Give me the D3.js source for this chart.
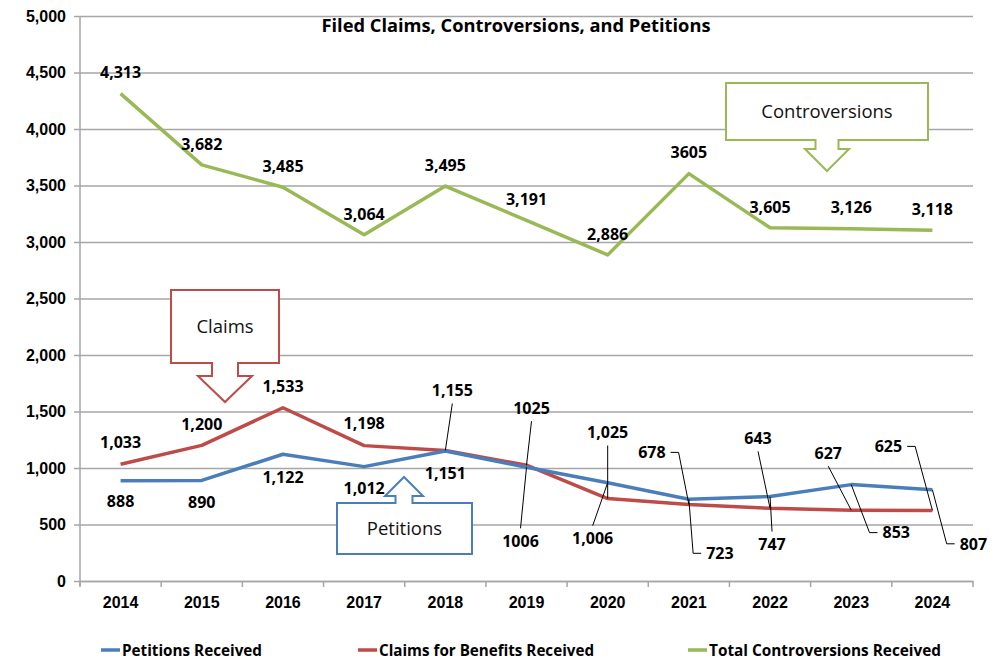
<!DOCTYPE html>
<html>
<head>
<meta charset="utf-8">
<script src="https://cdn.jsdelivr.net/npm/d3@7"></script>
<style>
  body { margin: 0; background: #fff; }
  svg { display: block; font-family: "Open Sans", sans-serif; }
</style>
</head>
<body>
<svg width="1000" height="662"></svg>
<script>
// chart data
var years = ["2014","2015","2016","2017","2018","2019","2020","2021","2022","2023","2024"];
var petitions = [888, 890, 1122, 1012, 1151, 1006, 870, 723, 747, 853, 807];
var claims = [1033, 1200, 1533, 1198, 1155, 1025, 730, 678, 643, 627, 625];
var controversions = [4313, 3682, 3485, 3064, 3495, 3191, 2886, 3605, 3126, 3118, 3105];

// data labels as printed on the chart
var petitionLabels = ["888","890","1,122","1,012","1,151","1006","1,006","723","747","853","807"];
var claimLabels = ["1,033","1,200","1,533","1,198","1,155","1025","1,025","678","643","627","625"];
var controvLabels = ["4,313","3,682","3,485","3,064","3,495","3,191","2,886","3605","3,605","3,126","3,118"];

var yTicks = [0, 500, 1000, 1500, 2000, 2500, 3000, 3500, 4000, 4500, 5000];
var seriesNames = ["Petitions Received", "Claims for Benefits Received", "Total Controversions Received"];

// label placement (offset from point, leader type)
var petDx = [0,0,0,0,0,-6,-15,31,2,45,41];
var petDy = [21,22,23,22,22,74,56,54,48,48,54];
var petLead = ["","","","","","v","v","h","v","h","h"];
var claimDx = [0,0,0,0,7,5,0,-37,-12,-23,-44];
var claimDy = [-22,-21,-22,-22,-60,-57,-66,-52,-70,-57,-64];
var claimLead = ["","","","","v","v","v","h","v","v","h"];

var blue = "#4a7ebb", red = "#be4b48", green = "#98b954";

var svg = d3.select("svg");
var plotL = 80, plotR = 973, plotT = 16, plotB = 581;

var x = d3.scaleBand().domain(years).range([plotL, plotR]).padding(0);
var y = d3.scaleLinear().domain([0, 5000]).range([plotB, plotT]);
var cx = function(i){ return x(years[i]) + x.bandwidth() / 2; };

// gridlines + y axis
var yAxis = d3.axisLeft(y).tickValues(yTicks).tickSize(-(plotR - plotL)).tickPadding(14)
  .tickFormat(d3.format(","));
var gy = svg.append("g").attr("transform", "translate(" + plotL + ",0)").call(yAxis);
gy.select(".domain").remove();
gy.selectAll(".tick line").attr("stroke", "#a6a6a6").attr("stroke-width", 1.5).attr("x1", -6);
gy.selectAll(".tick text").attr("font-size", 16).attr("font-weight", "bold").attr("fill", "#000");

svg.append("line").attr("x1", plotL).attr("x2", plotL).attr("y1", plotT).attr("y2", plotB + 5)
  .attr("stroke", "#a6a6a6").attr("stroke-width", 1.5);

// x axis
var xAxis = d3.axisBottom(x).tickSize(0).tickPadding(16);
var gx = svg.append("g").attr("transform", "translate(0," + plotB + ")").call(xAxis);
gx.select(".domain").attr("stroke", "#a6a6a6").attr("stroke-width", 1.5);
gx.selectAll(".tick text").attr("font-size", 16).attr("font-weight", "bold").attr("fill", "#000");
var bounds = years.map(function(d){ return x(d); }).concat([plotR]);
svg.selectAll(".xtick").data(bounds).enter().append("line")
  .attr("x1", function(d){ return d; }).attr("x2", function(d){ return d; })
  .attr("y1", plotB).attr("y2", plotB + 6)
  .attr("stroke", "#a6a6a6").attr("stroke-width", 1.5);

// title
svg.append("text").attr("x", 516).attr("y", 32).attr("text-anchor", "middle")
  .attr("font-size", 17.5).attr("font-weight", "bold")
  .attr("textLength", 389).attr("lengthAdjust", "spacingAndGlyphs")
  .text("Filed Claims, Controversions, and Petitions");

// lines
var line = d3.line().x(function(d, i){ return cx(i); }).y(function(d){ return y(d); });
[[controversions, green], [claims, red], [petitions, blue]].forEach(function(s){
  svg.append("path").datum(s[0]).attr("d", line)
    .attr("fill", "none").attr("stroke", s[1]).attr("stroke-width", 3.5).attr("stroke-linejoin", "round");
});

// data labels
function drawLabels(values, labels, dxs, dys, leads){
  var g = svg.append("g");
  values.forEach(function(v, i){
    var px = cx(i), py = y(v);
    var lx = px + dxs[i], ly = py + dys[i];
    var t = g.append("text").attr("x", lx).attr("y", ly).attr("dy", "0.36em")
      .attr("text-anchor", "middle").attr("font-size", 16).attr("font-weight", "bold")
      .text(labels[i]);
    var w = t.node().getComputedTextLength() / 2;
    if (leads[i] == "v") {
      var sy = ly + (dys[i] < 0 ? 13 : -13);
      g.append("line").attr("x1", lx).attr("y1", sy).attr("x2", px).attr("y2", py)
        .attr("stroke", "#000").attr("stroke-width", 1);
    } else if (leads[i] == "h") {
      var side = dxs[i] < 0 ? 1 : -1;
      var sx = lx + side * (w + 5);
      var hx = sx + side * 8;
      g.append("polyline").attr("points", [sx, ly, hx, ly, px, py].join(","))
        .attr("fill", "none").attr("stroke", "#000").attr("stroke-width", 1);
    }
  });
}
drawLabels(controversions, controvLabels, controversions.map(function(){return 0;}),
  controversions.map(function(){return -21;}), controversions.map(function(){return "";}));
drawLabels(claims, claimLabels, claimDx, claimDy, claimLead);
drawLabels(petitions, petitionLabels, petDx, petDy, petLead);

// callouts
function callout(bx, by, bw, bh, dir, mid, sw, hw, tipLen, neck, color, label){
  var p;
  if (dir == "down") {
    var b = by + bh;
    p = [[bx,by],[bx+bw,by],[bx+bw,b],[mid+sw/2,b],[mid+sw/2,b+neck],[mid+hw/2,b+neck],
         [mid,b+neck+tipLen],[mid-hw/2,b+neck],[mid-sw/2,b+neck],[mid-sw/2,b],[bx,b]];
  } else {
    p = [[bx,by+bh],[bx,by],[mid-sw/2,by],[mid-sw/2,by-neck],[mid-hw/2,by-neck],[mid,by-neck-tipLen],
         [mid+hw/2,by-neck],[mid+sw/2,by-neck],[mid+sw/2,by],[bx+bw,by],[bx+bw,by+bh]];
  }
  svg.append("polygon").attr("points", p.map(function(q){ return q.join(","); }).join(" "))
    .attr("fill", "#fff").attr("stroke", color).attr("stroke-width", 2);
  svg.append("text").attr("x", bx + bw / 2).attr("y", by + bh / 2).attr("dy", "0.35em")
    .attr("text-anchor", "middle").attr("font-size", 18.5).attr("fill", "#111").text(label);
}
callout(171, 290, 108, 73, "down", 225, 26, 54, 26, 13, red, "Claims");
callout(337, 503, 135, 51, "up", 404, 17, 38, 19, 7, blue, "Petitions");
callout(726, 83, 202, 57, "down", 827, 23, 44, 22, 9, green, "Controversions");

// legend
var legX = [101, 358, 688];
var legW = [140, 215, 232];
var legC = [blue, red, green];
seriesNames.forEach(function(n, i){
  svg.append("line").attr("x1", legX[i]).attr("x2", legX[i] + 19).attr("y1", 650).attr("y2", 650)
    .attr("stroke", legC[i]).attr("stroke-width", 3.5);
  svg.append("text").attr("x", legX[i] + 21).attr("y", 650).attr("dy", "0.35em")
    .attr("font-size", 16).attr("font-weight", "bold")
    .attr("textLength", legW[i]).attr("lengthAdjust", "spacingAndGlyphs").text(n);
});
</script>
</body>
</html>
